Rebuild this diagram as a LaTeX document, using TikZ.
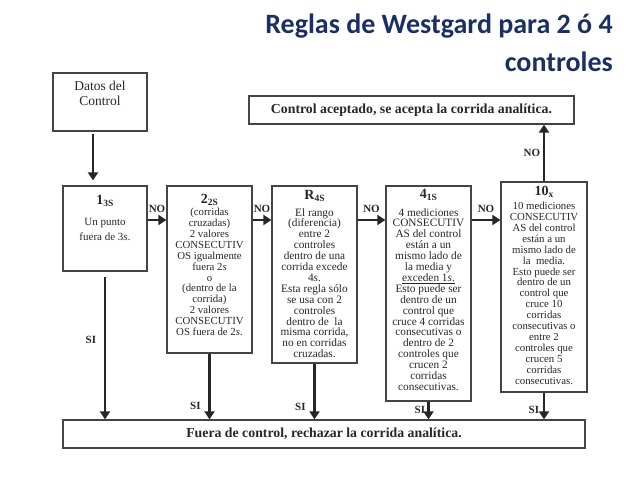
\documentclass[tikz,border=0pt]{standalone}
\usepackage{fontspec}
\setmainfont{Liberation Serif}
\newfontfamily\titlefont{Carlito}
\usetikzlibrary{arrows.meta}
\definecolor{navy}{HTML}{1B2F66}
\definecolor{ink}{HTML}{262626}
\definecolor{edgec}{HTML}{444444}
\newcommand{\hdr}[2]{#1\raisebox{-2pt}{\fontsize{9.5}{9.5}\selectfont #2}}
\begin{document}
\begin{tikzpicture}[x=1pt,y=-1pt,
  box/.style={draw=edgec, line width=1.2pt, inner sep=0pt},
  conn/.style={draw=ink, line width=2.8pt, -{Triangle[length=8pt,width=10pt]}},
  lab/.style={font=\fontsize{11}{11}\selectfont\bfseries, text=ink, inner sep=0.5pt},
  body/.style={font=\fontsize{10.8}{10.9}\selectfont, text=ink, align=center, inner sep=0pt, anchor=north},
  bigbody/.style={body, font=\fontsize{11.3}{10.9}\selectfont},
  head/.style={font=\fontsize{14}{14}\selectfont\bfseries, text=ink, inner sep=0pt},
  ttl/.style={font=\titlefont\fontsize{28}{28}\selectfont\bfseries, text=navy, inner sep=0pt, anchor=base east}]
\useasboundingbox (0,0) rectangle (638,479);

% title
\node[ttl] (t1) at (613,34) {Reglas de Westgard para 2 ó 4};
\node[ttl] (t2) at (613,71) {controles};

% boxes
\node[box, minimum width=94pt, minimum height=58pt] (datos) at (100,102) {};
\node[font=\fontsize{13.5}{15}\selectfont, text=ink, align=center, inner sep=0pt, anchor=north] (datost) at (100,81) {Datos del\\Control};

\node[box, minimum width=325pt, minimum height=28pt, font=\fontsize{13.8}{14}\selectfont\bfseries, text=ink] (acc) at (411.5,110) {Control aceptado, se acepta la corrida analítica.};
\node[box, minimum width=522pt, minimum height=28pt, font=\fontsize{13.8}{14}\selectfont\bfseries, text=ink] (rej) at (324,434) {Fuera de control, rechazar la corrida analítica.};

\node[box, minimum width=84pt, minimum height=85pt] (b1) at (105,228.5) {};
\node[box, minimum width=85pt, minimum height=167pt] (b2) at (209.5,269.5) {};
\node[box, minimum width=85pt, minimum height=177pt] (b3) at (314.5,274.5) {};
\node[box, minimum width=85pt, minimum height=215pt] (b4) at (428.5,293.5) {};
\node[box, minimum width=86pt, minimum height=210pt] (b5) at (544,287) {};

% headers
\node[head] (h1) at (105,200.5) {\hdr{1}{3S}};
\node[head] (h2) at (209.5,199.5) {\hdr{2}{2S}};
\node[head] (h3) at (314.5,195.5) {\hdr{R}{4S}};
\node[head] (h4) at (428.5,194.5) {\hdr{4}{1S}};
\node[head] (h5) at (544,191.5) {\hdr{10}{\bfseries x}};

% bodies
\node[body, font=\fontsize{11}{15}\selectfont] (x1) at (105,218.5) {Un punto\\fuera de 3\textit{s}.};
\node[body] (x2) at (209.5,208) {(corridas\\cruzadas)\\2 valores\\CONSECUTIV\\OS igualmente\\fuera 2\textit{s}\\o\\(dentro de la\\corrida)\\2 valores\\CONSECUTIV\\OS fuera de 2\textit{s}.};
\node[bigbody] (x3) at (314.5,208) {El rango\\(diferencia)\\entre 2\\controles\\dentro de una\\corrida excede\\4\textit{s}.\\Esta regla sólo\\se usa con 2\\controles\\dentro de\ \ la\\misma corrida,\\no en corridas\\cruzadas.};
\node[bigbody] (x4) at (428.5,208) {4 mediciones\\CONSECUTIV\\AS del control\\están a un\\mismo lado de\\la media y\\\underline{exceden 1\textit{s}.}\\Esto puede ser\\dentro de un\\control que\\cruce 4 corridas\\consecutivas o\\dentro de 2\\controles que\\crucen 2\\corridas\\consecutivas.};
\node[body] (x5) at (544,202) {10 mediciones\\CONSECUTIV\\AS del control\\están a un\\mismo lado de\\la\ \ media.\\Esto puede ser\\dentro de un\\control que\\cruce 10\\corridas\\consecutivas o\\entre 2\\controles que\\crucen 5\\corridas\\consecutivas.};

% connectors
\draw[conn, shorten <=2pt, shorten >=5pt] ([xshift=-7pt]datos.south) -- ([xshift=-7pt]datos.south |- b1.north);
\coordinate (yno) at (0,220);
\draw[conn] (b1.east |- yno) -- (b2.west |- yno) node[midway, above=5pt, lab] (no1) {NO};
\draw[conn] (b2.east |- yno) -- (b3.west |- yno) node[midway, above=5pt, lab] (no2) {NO};
\draw[conn] (b3.east |- yno) -- (b4.west |- yno) node[midway, above=5pt, lab] (no3) {NO};
\draw[conn] (b4.east |- yno) -- (b5.west |- yno) node[midway, above=5pt, lab] (no4) {NO};
\draw[conn] (b5.north) -- (b5.north |- acc.south) node[midway, left=2pt, lab] (no5) {NO};

\draw[conn, shorten <=5pt] (b1.south) -- (b1.south |- rej.north) node[pos=0.46, anchor=east, xshift=-7pt, lab] (si1) {SI};
\draw[conn] (b2.south) -- (b2.south |- rej.north) node[pos=0.8, anchor=east, xshift=-7pt, lab] (si2) {SI};
\draw[conn] (b3.south) -- (b3.south |- rej.north) node[pos=0.77, anchor=east, xshift=-7pt, lab] (si3) {SI};
\draw[conn] (b4.south) -- (b4.south |- rej.north) node[pos=0.47, anchor=east, xshift=-1.5pt, lab] (si4) {SI};
\draw[conn] (b5.south) -- (b5.south |- rej.north) node[pos=0.64, anchor=east, xshift=-3pt, lab] (si5) {SI};
\end{tikzpicture}
\end{document}
